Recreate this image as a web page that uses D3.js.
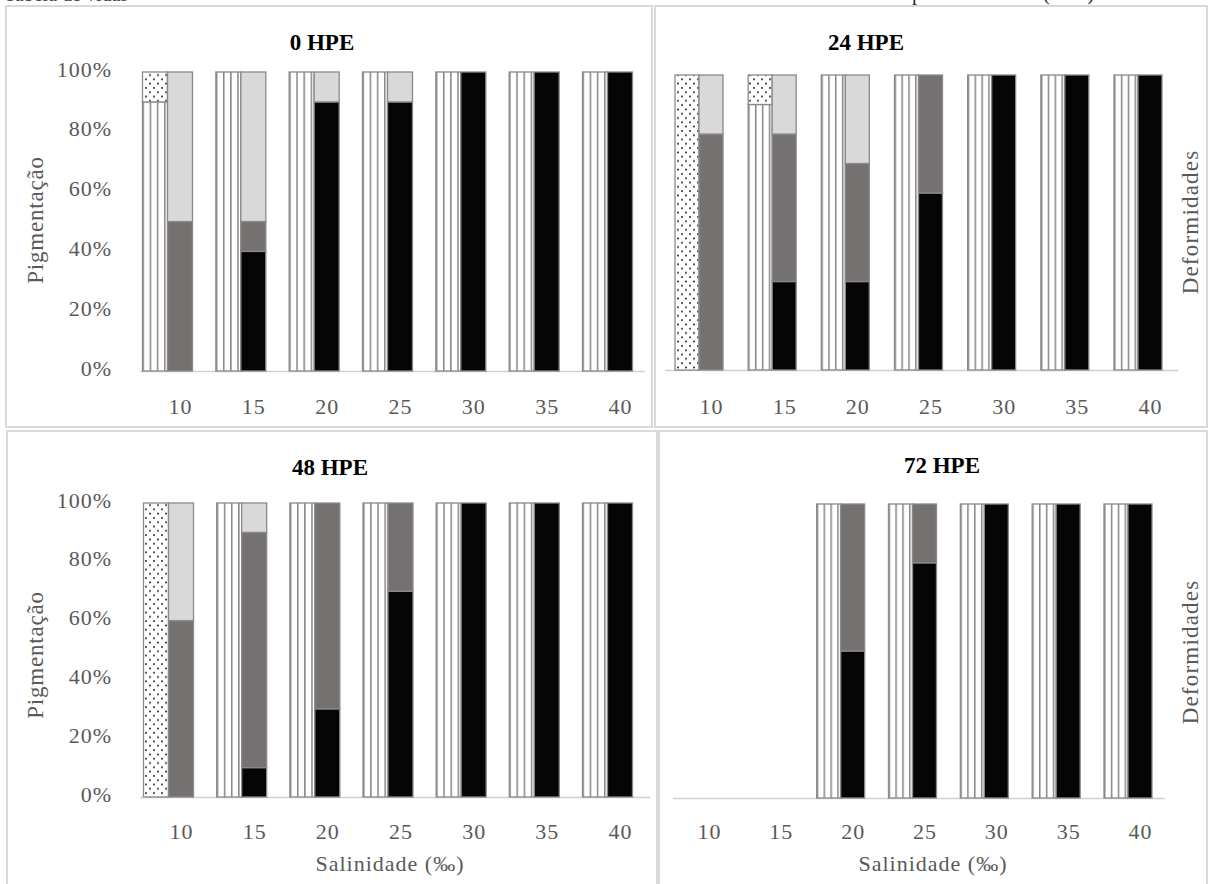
<!DOCTYPE html>
<html><head><meta charset="utf-8">
<script src="https://cdn.jsdelivr.net/npm/d3@7"></script>
<style>html,body{margin:0;padding:0;background:#fff}svg{display:block}</style>
</head><body>
<script>
// ---------- DATA ----------
const categories = ["10","15","20","25","30","35","40"];
const panelTitles = ["0 HPE","24 HPE","48 HPE","72 HPE"];
const yTickValues = [0,20,40,60,80,100];
// Deformities (left bar of each pair): normal (stripes) / deformed (dots), %
const normal0 = [90,100,100,100,100,100,100];
const deformed0 = [10,0,0,0,0,0,0];
const normal24 = [0,90,100,100,100,100,100];
const deformed24 = [100,10,0,0,0,0,0];
const normal48 = [0,100,100,100,100,100,100];
const deformed48 = [100,0,0,0,0,0,0];
const normal72 = [0,0,100,100,100,100,100];
const deformed72 = [0,0,0,0,0,0,0];
// Pigmentation (right bar of each pair): black / dark gray / light gray, %
const black0 = [0,40,90,90,100,100,100];
const dark0 = [50,10,0,0,0,0,0];
const light0 = [50,50,10,10,0,0,0];
const black24 = [0,30,30,60,100,100,100];
const dark24 = [80,50,40,40,0,0,0];
const light24 = [20,20,30,0,0,0,0];
const black48 = [0,10,30,70,100,100,100];
const dark48 = [60,80,70,30,0,0,0];
const light48 = [40,10,0,0,0,0,0];
const black72 = [0,0,50,80,100,100,100];
const dark72 = [0,0,50,20,0,0,0];
const light72 = [0,0,0,0,0,0,0];

const yTitle = "Pigmentação";
const rTitle = "Deformidades";
const xTitle = "Salinidade (‰)";

const panelData = [
  {normal:normal0, deformed:deformed0, black:black0, dark:dark0, light:light0},
  {normal:normal24, deformed:deformed24, black:black24, dark:dark24, light:light24},
  {normal:normal48, deformed:deformed48, black:black48, dark:dark48, light:light48},
  {normal:normal72, deformed:deformed72, black:black72, dark:dark72, light:light72}
];

// ---------- LAYOUT ----------
const layouts = [
  {box:[6,6,646,421], x:[180,620], y:[371,72], bw:25, title:[322,42], yTicks:true, yT:[35,220], rT:null, xLabY:406, xT:null, axis:[140,645]},
  {box:[655,6,552,421], x:[711,1150], y:[370,75], bw:24, title:[866,42], yTicks:false, yT:null, rT:[1190,222], xLabY:406, xT:null, axis:[665,1178]},
  {box:[7,431,650,460], x:[181,620], y:[797,503], bw:25, title:[330,467], yTicks:true, yT:[35,655], rT:null, xLabY:831, xT:[390,863], axis:[140,650]},
  {box:[659,431,548,460], x:[709,1140], y:[798,504], bw:24, title:[942,465], yTicks:false, yT:null, rT:[1190,652], xLabY:831, xT:[933,863], axis:[673,1165]}
];

const W = 1210, H = 884;
const svg = d3.select("body").append("svg").attr("width", W).attr("height", H);
svg.append("rect").attr("width", W).attr("height", H).attr("fill", "#fff");

const defs = svg.append("defs");
const stripes = defs.append("pattern").attr("id","stripes")
  .attr("patternUnits","objectBoundingBox").attr("x",0).attr("y",0)
  .attr("width", 2/7).attr("height", 1);
stripes.append("rect").attr("width",40).attr("height",1000).attr("fill","#fff");
stripes.append("rect").attr("x",0).attr("width",1.5).attr("height",1000).attr("fill","#858585");

const dots = defs.append("pattern").attr("id","dots")
  .attr("patternUnits","userSpaceOnUse").attr("width",8).attr("height",8.6);
dots.append("rect").attr("width",8).attr("height",8.6).attr("fill","#fff");
dots.append("circle").attr("cx",2).attr("cy",2).attr("r",0.95).attr("fill","#111");
dots.append("circle").attr("cx",6).attr("cy",6.3).attr("r",0.95).attr("fill","#111");

const font = "'Liberation Serif', 'Times New Roman', serif";
const gray = "#595959";

// cut-off text fragments at the very top (as in the reference)
svg.append("text").attr("x",4).attr("y",0.5).attr("font-family",font).attr("font-size",20).attr("fill","#444").text("Tabela de vidas");
svg.append("text").attr("x",912).attr("y",0).attr("font-family",font).attr("font-size",20).attr("fill","#222").text("p");
svg.append("text").attr("x",1043).attr("y",0).attr("font-family",font).attr("font-size",20).attr("fill","#222").text("(HPE)");

const pigKeys = ["black","dark","light"];
const pigColors = {black:"#050505", dark:"#767171", light:"#d9d9d9"};
const defKeys = ["normal","deformed"];
const defFill = {normal:"url(#stripes)", deformed:"url(#dots)"};

layouts.forEach((L, pi) => {
  const D = panelData[pi];
  const g = svg.append("g");
  g.append("rect").attr("x",L.box[0]).attr("y",L.box[1]).attr("width",L.box[2]).attr("height",L.box[3])
    .attr("fill","none").attr("stroke","#d9d9d9").attr("stroke-width",2);

  const x = d3.scalePoint().domain(categories).range(L.x);
  const y = d3.scaleLinear().domain([0,100]).range(L.y);

  const rows = categories.map((c,i) => ({cat:c, normal:D.normal[i], deformed:D.deformed[i],
    black:D.black[i], dark:D.dark[i], light:D.light[i]}));

  // baseline
  g.append("line").attr("x1",L.axis[0]).attr("x2",L.axis[1]).attr("y1",y(0)+0.5).attr("y2",y(0)+0.5)
    .attr("stroke","#d0d0d0").attr("stroke-width",1.5);

  // deformities bars (left)
  const defStack = d3.stack().keys(defKeys)(rows);
  defStack.forEach(layer => {
    g.selectAll(null).data(layer.filter(d => d[1]-d[0] > 0)).enter().append("rect")
      .attr("x", d => x(d.data.cat) - L.bw/2 - L.bw)
      .attr("width", L.bw)
      .attr("y", d => y(d[1]))
      .attr("height", d => y(d[0]) - y(d[1]))
      .attr("fill", defFill[layer.key])
      .attr("stroke","#8a8a8a").attr("stroke-width",1.3);
  });
  // pigmentation bars (right)
  const pigStack = d3.stack().keys(pigKeys)(rows);
  pigStack.forEach(layer => {
    g.selectAll(null).data(layer.filter(d => d[1]-d[0] > 0)).enter().append("rect")
      .attr("x", d => x(d.data.cat) - L.bw/2)
      .attr("width", L.bw)
      .attr("y", d => y(d[1]))
      .attr("height", d => y(d[0]) - y(d[1]))
      .attr("fill", pigColors[layer.key])
      .attr("stroke","#8a8a8a").attr("stroke-width",1.3);
  });

  // x tick labels
  const xa = g.append("g").attr("transform",`translate(0,${L.xLabY})`)
    .call(d3.axisBottom(x).tickSize(0).tickPadding(0));
  xa.select(".domain").remove();
  xa.selectAll("text").attr("font-family",font).attr("font-size",22).attr("fill",gray)
    .attr("letter-spacing",1).attr("dy","0.35em").attr("y",0);

  if (L.yTicks) {
    const ya = g.append("g").attr("transform",`translate(112,-3)`)
      .call(d3.axisLeft(y).tickValues(yTickValues).tickFormat(d => d + "%").tickSize(0).tickPadding(0));
    ya.select(".domain").remove();
    ya.selectAll("text").attr("font-family",font).attr("font-size",22).attr("fill",gray)
      .attr("letter-spacing",1).attr("x",0);
  }

  g.append("text").attr("x",L.title[0]).attr("y",L.title[1]).attr("text-anchor","middle")
    .attr("dominant-baseline","central").attr("font-family",font).attr("font-weight","bold")
    .attr("font-size",23).attr("fill","#000").text(panelTitles[pi]);

  if (L.yT) {
    g.append("text").attr("transform",`translate(${L.yT[0]},${L.yT[1]}) rotate(-90)`)
      .attr("text-anchor","middle").attr("dominant-baseline","central")
      .attr("font-family",font).attr("font-size",23).attr("letter-spacing",0.8).attr("fill",gray).text(yTitle);
  }
  if (L.rT) {
    g.append("text").attr("transform",`translate(${L.rT[0]},${L.rT[1]}) rotate(-90)`)
      .attr("text-anchor","middle").attr("dominant-baseline","central")
      .attr("font-family",font).attr("font-size",23).attr("letter-spacing",1.2).attr("fill",gray).text(rTitle);
  }
  if (L.xT) {
    g.append("text").attr("x",L.xT[0]).attr("y",L.xT[1]).attr("text-anchor","middle")
      .attr("dominant-baseline","central").attr("font-family",font).attr("font-size",22)
      .attr("letter-spacing",1).attr("fill",gray).text(xTitle);
  }
});
</script>
</body></html>
